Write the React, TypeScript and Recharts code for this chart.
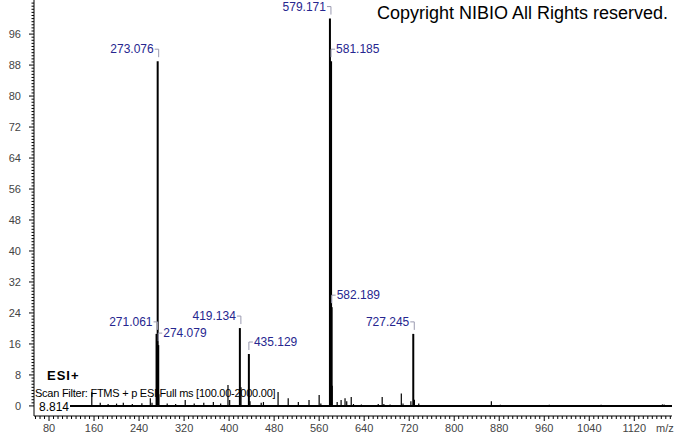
import { ScatterChart, Scatter, XAxis, YAxis, ReferenceLine } from "recharts"

// all peak sticks (m/z, relative intensity %)
const PEAK_MZ = [
  156, 171, 185, 200, 212, 228, 245, 260, 263, 271.061, 273.076, 274.079, 275.08,
  290, 305, 322, 338, 355, 372, 385, 398, 401, 419.134, 421.14, 435.129, 437.13,
  457, 461, 487, 505, 523, 542, 560, 563, 579.171, 581.185, 582.189, 583.19,
  592, 599, 606, 609, 617, 621, 635, 665, 672, 675, 686, 706, 709, 723, 727.245,
  729.25, 737, 866, 882, 969, 1061, 1170, 1173,
]
const PEAK_INT = [
  3.5, 0.8, 0.5, 0.6, 0.8, 0.5, 0.7, 2.0, 0.8, 18.6, 89, 15.7, 3.0,
  0.6, 0.5, 1.5, 0.6, 0.8, 1.0, 0.6, 5.4, 1.5, 20.1, 4.8, 13.4, 1.2,
  0.8, 1.0, 3.6, 2.0, 1.0, 1.5, 2.8, 0.6, 100, 89, 25.5, 5.2,
  1.0, 1.5, 2.0, 1.2, 2.3, 0.5, 0.4, 0.5, 2.3, 0.5, 0.4, 3.2, 0.6, 1.2, 18.6,
  1.6, 0.6, 1.2, 0.3, 0.3, 0.3, 0.4, 0.4,
]

// annotated peaks
const LABEL_MZ = [579.171, 581.185, 273.076, 271.061, 274.079, 419.134, 435.129, 582.189, 727.245]
const LABEL_INT = [100, 89, 89, 18.6, 15.7, 20.1, 13.4, 25.5, 18.6]
const LABEL_TEXT = ["579.171", "581.185", "273.076", "271.061", "274.079", "419.134", "435.129", "582.189", "727.245"]
const RIGHT_SIDE = new Set(["581.185", "274.079", "435.129", "582.189"])

const X_MAJOR = [80, 160, 240, 320, 400, 480, 560, 640, 720, 800, 880, 960, 1040, 1120]
const Y_MAJOR = [0, 8, 16, 24, 32, 40, 48, 56, 64, 72, 80, 88, 96]

const xTicks: number[] = []
for (let v = 56; v <= 1184; v += 8) xTicks.push(v)
const yTicks: number[] = []
for (let i = 0; i <= 130; i++) yTicks.push(Math.round(i * 0.8 * 10) / 10)

const labelData = LABEL_MZ.map((x, i) => ({ x, y: LABEL_INT[i], text: LABEL_TEXT[i] }))

const FONT = "'Liberation Sans', Arial, sans-serif"
const LABEL_BLUE = "#26268f"
const BRACKET = "#9a9ab0"

function XTick({ x, y, payload }: any) {
  const major = X_MAJOR.includes(payload.value)
  return (
    <g>
      <line x1={x} x2={x} y1={y} y2={y + (major ? 5 : 3)} stroke="#000" />
      {major && (
        <text x={x} y={y + 16} textAnchor="middle" fontSize={11} fontFamily={FONT} fill="#444">
          {payload.value}
        </text>
      )}
    </g>
  )
}

function YTick({ x, y, payload }: any) {
  const major = Y_MAJOR.includes(payload.value)
  return (
    <g>
      <line x1={x - (major ? 5 : 2.5)} x2={x} y1={y} y2={y} stroke="#000" />
      {major && (
        <text x={x - 13} y={y + 4} textAnchor="end" fontSize={11} fontFamily={FONT} fill="#444">
          {payload.value}
        </text>
      )}
    </g>
  )
}

function PeakLabel({ cx, cy, payload }: any) {
  const ly = cy - 12
  if (RIGHT_SIDE.has(payload.text)) {
    return (
      <g>
        <path d={`M${cx},${ly + 8}V${ly}H${cx + 4}`} stroke={BRACKET} fill="none" />
        <text x={cx + 5} y={ly + 4} fontSize={12} fontFamily={FONT} fill={LABEL_BLUE}>
          {payload.text}
        </text>
      </g>
    )
  }
  return (
    <g>
      <path d={`M${cx - 3},${ly}H${cx + 1}V${ly + 8}`} stroke={BRACKET} fill="none" />
      <text x={cx - 4} y={ly + 4} textAnchor="end" fontSize={12} fontFamily={FONT} fill={LABEL_BLUE}>
        {payload.text}
      </text>
    </g>
  )
}

export default function App() {
  return (
    <div style={{ position: "relative", width: 674, height: 434, background: "#fff", fontFamily: FONT }}>
      <style>{`body{margin:0}`}</style>
      <ScatterChart width={674} height={434} margin={{ top: 0, right: 2, bottom: 0, left: 0 }}>
        <XAxis
          type="number"
          dataKey="x"
          domain={[53.3, 1187]}
          allowDataOverflow
          ticks={xTicks}
          interval={0}
          tick={<XTick />}
          tickLine={false}
          tickSize={0}
          tickMargin={0}
          height={18}
          axisLine={{ stroke: "#000" }}
        />
        <YAxis
          type="number"
          dataKey="y"
          domain={[-2.6, 104.8]}
          allowDataOverflow
          ticks={yTicks}
          interval={0}
          tick={<YTick />}
          tickLine={false}
          tickSize={0}
          tickMargin={0}
          width={34}
          axisLine={{ stroke: "#000" }}
        />
        <ReferenceLine
          segment={[{ x: 100, y: 0 }, { x: 1187, y: 0 }]}
          stroke="#000"
          strokeWidth={2}
          ifOverflow="visible"
        />
        {PEAK_MZ.map((mz, i) => (
          <ReferenceLine
            key={mz}
            segment={[{ x: mz, y: 0 }, { x: mz, y: PEAK_INT[i] }]}
            stroke="#000"
            strokeWidth={PEAK_INT[i] > 10 ? 2 : 1.2}
            ifOverflow="visible"
          />
        ))}
        <Scatter data={labelData} shape={<PeakLabel />} isAnimationActive={false} />
      </ScatterChart>
      <div style={{ position: "absolute", left: 377, top: 3, fontSize: 18, color: "#000", whiteSpace: "nowrap" }}>
        Copyright NIBIO All Rights reserved.
      </div>
      <div style={{ position: "absolute", left: 47, top: 368, fontSize: 13, fontWeight: "bold", color: "#000", letterSpacing: 1 }}>
        ESI+
      </div>
      <div
        style={{
          position: "absolute",
          left: 35,
          top: 387,
          fontSize: 11,
          color: "#000",
          whiteSpace: "nowrap",
          letterSpacing: -0.25,
        }}
      >
        Scan Filter: FTMS + p ESI Full ms [100.00-2000.00]
      </div>
      <div
        style={{
          position: "absolute",
          left: 38,
          top: 400,
          fontSize: 12,
          color: "#000",
          background: "#fff",
          padding: "0 1px",
          lineHeight: "14px",
        }}
      >
        8.814
      </div>
      <div style={{ position: "absolute", left: 656, top: 422, fontSize: 11, color: "#444" }}>m/z</div>
    </div>
  )
}
